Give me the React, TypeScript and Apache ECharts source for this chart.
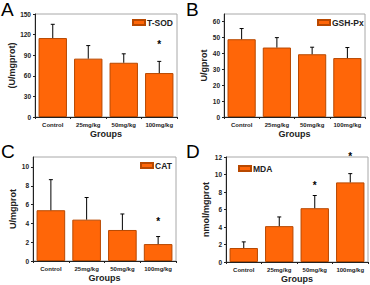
import React, { useEffect, useRef } from "react";
import * as echarts from "echarts";

const categories = ["Control", "25mg/kg", "50mg/kg", "100mg/kg"];

const sodValues = [115, 85, 79, 64];
const sodErrors = [20, 19, 13, 17];
const sodStars: (number | null)[] = [null, null, null, 108];

const gshValues = [48.7, 43.5, 39.3, 36.9];
const gshErrors = [6.7, 6.2, 4.4, 6.6];
const gshStars: (number | null)[] = [null, null, null, null];

const catValues = [5.4, 4.4, 3.3, 1.8];
const catErrors = [3.25, 2.35, 1.7, 0.8];
const catStars: (number | null)[] = [null, null, null, 4.4];

const mdaValues = [1.6, 4.1, 6.15, 9.1];
const mdaErrors = [0.7, 1.05, 1.45, 1.0];
const mdaStars: (number | null)[] = [null, null, 9.0, 12.3];

const FONT = "Liberation Sans, Arial, sans-serif";
const BAR = "#ff6608";
const BAR_BORDER = "#b84800";

type Panel = {
  letter: string;
  name: string;
  yName: string;
  values: number[];
  errors: number[];
  stars: (number | null)[];
  max: number;
  interval: number;
  grid: { left: number; top: number; width: number; height: number };
  nameGap: number;
  legend: { left: number; top: number };
  letterPos: { left: number; top: number };
};

const panels: Panel[] = [
  {
    letter: "A", name: "T-SOD", yName: "(U/mgprot)", values: sodValues, errors: sodErrors, stars: sodStars,
    max: 150, interval: 30, grid: { left: 35, top: 14, width: 142, height: 103 }, nameGap: 15,
    legend: { left: 132, top: 18 }, letterPos: { left: 1, top: 1 },
  },
  {
    letter: "B", name: "GSH-Px", yName: "U/gprot", values: gshValues, errors: gshErrors, stars: gshStars,
    max: 64.5, interval: 10, grid: { left: 224, top: 14, width: 141, height: 103 }, nameGap: 14,
    legend: { left: 317, top: 18 }, letterPos: { left: 186, top: 1 },
  },
  {
    letter: "C", name: "CAT", yName: "U/mgprot", values: catValues, errors: catErrors, stars: catStars,
    max: 11.06, interval: 2, grid: { left: 33, top: 157, width: 143, height: 104 }, nameGap: 13,
    legend: { left: 140, top: 161 }, letterPos: { left: 1, top: 143 },
  },
  {
    letter: "D", name: "MDA", yName: "nmol/mgprot", values: mdaValues, errors: mdaErrors, stars: mdaStars,
    max: 12, interval: 2, grid: { left: 226, top: 157, width: 142, height: 105 }, nameGap: 12,
    legend: { left: 238, top: 164 }, letterPos: { left: 186, top: 143 },
  },
];

export default function App() {
  const ref = useRef<HTMLDivElement>(null);
  useEffect(() => {
    if (!ref.current) return;
    const chart = echarts.init(ref.current, undefined, { renderer: "svg", width: 370, height: 285 });
    const grids: any[] = [];
    const xAxes: any[] = [];
    const yAxes: any[] = [];
    const series: any[] = [];
    const legends: any[] = [];
    const titles: any[] = [];

    panels.forEach((p, k) => {
      grids.push({
        left: p.grid.left, top: p.grid.top, width: p.grid.width, height: p.grid.height,
        show: true, borderColor: "#a8a8a8", borderWidth: 1, backgroundColor: "transparent",
      });
      xAxes.push({
        type: "category", gridIndex: k, data: categories, boundaryGap: true,
        axisLine: { lineStyle: { color: "#222", width: 1 } },
        axisTick: { show: true, length: 2, alignWithLabel: false, lineStyle: { color: "#222" } },
        axisLabel: { interval: 0, fontSize: 6, fontWeight: "bold", color: "#222", fontFamily: FONT, margin: 5 },
        name: "Groups", nameLocation: "middle", nameGap: 12,
        nameTextStyle: { fontSize: 9, fontWeight: "bold", color: "#222", fontFamily: FONT },
      });
      yAxes.push({
        type: "value", gridIndex: k, min: 0, max: p.max, interval: p.interval,
        axisLine: { show: true, lineStyle: { color: "#222", width: 1 } },
        axisTick: { show: true, length: 2, lineStyle: { color: "#222" } },
        splitLine: { show: false },
        axisLabel: { fontSize: 6.5, fontWeight: "bold", color: "#222", fontFamily: FONT, margin: 4, showMaxLabel: p.max % p.interval === 0 },
        name: p.yName, nameLocation: "middle", nameGap: p.nameGap, nameRotate: 90,
        nameTextStyle: { fontSize: 9, fontWeight: "bold", color: "#222", fontFamily: FONT },
      });
      series.push({
        type: "bar", name: p.name, xAxisIndex: k, yAxisIndex: k, data: p.values, barWidth: "80%",
        itemStyle: { color: BAR, borderColor: BAR_BORDER, borderWidth: 1 },
      });
      series.push({
        type: "custom", xAxisIndex: k, yAxisIndex: k, z: 3, clip: false,
        data: p.values.map((v, i) => [i, v, p.errors[i]]),
        renderItem: (params: any, api: any) => {
          const i = api.value(0);
          const v = api.value(1);
          const e = api.value(2);
          const base = api.coord([i, v]);
          const top = api.coord([i, v + e]);
          const h = 2;
          return {
            type: "group",
            children: [
              { type: "line", shape: { x1: base[0], y1: base[1], x2: top[0], y2: top[1] }, style: { stroke: "#000", lineWidth: 1 } },
              { type: "line", shape: { x1: top[0] - h, y1: top[1], x2: top[0] + h, y2: top[1] }, style: { stroke: "#000", lineWidth: 1 } },
            ],
          };
        },
      });
      const starData = p.stars.map((s, i) => (s === null ? null : [i, s])).filter((d) => d !== null);
      if (starData.length) {
        series.push({
          type: "custom", xAxisIndex: k, yAxisIndex: k, z: 4, clip: false, data: starData,
          renderItem: (params: any, api: any) => {
            const pt = api.coord([api.value(0), api.value(1)]);
            return {
              type: "text", x: pt[0], y: pt[1] + 2,
              style: { text: "*", font: `bold 10px ${FONT}`, fill: "#000", align: "center", verticalAlign: "middle" },
            };
          },
        });
      }
      legends.push({
        data: [p.name], left: p.legend.left, top: p.legend.top, orient: "horizontal", padding: 0,
        itemWidth: 12, itemHeight: 5, itemGap: 2, icon: "rect",
        textStyle: { fontSize: 8.5, fontWeight: "bold", color: "#222", fontFamily: FONT, padding: [0, 0, 0, -3] },
        selectedMode: false,
      });
      titles.push({
        text: p.letter, left: p.letterPos.left, top: p.letterPos.top, padding: 0,
        textStyle: { fontSize: 19, lineHeight: 16, fontWeight: "normal", color: "#000", fontFamily: FONT },
      });
    });

    chart.setOption({
      animation: false,
      backgroundColor: "#fff",
      title: titles,
      legend: legends,
      grid: grids,
      xAxis: xAxes,
      yAxis: yAxes,
      series,
    });
    return () => chart.dispose();
  }, []);
  return (
    <div style={{ position: "absolute", left: 0, top: 0, width: 370, height: 285 }}>
      <div ref={ref} style={{ width: 370, height: 285 }} />
    </div>
  );
}
